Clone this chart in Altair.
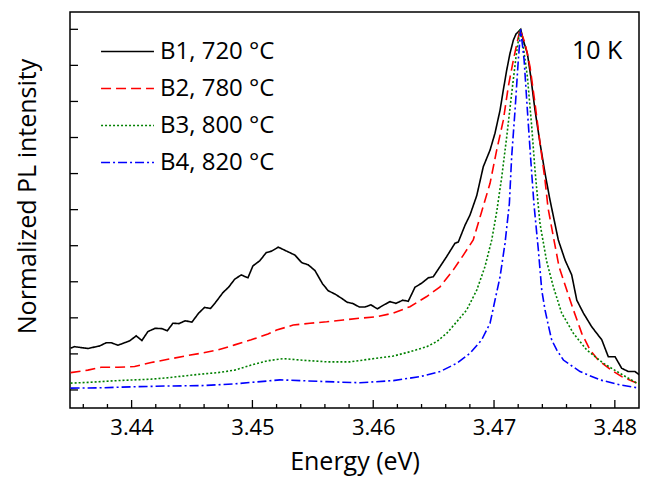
import altair as alt
import pandas as pd

series = ["B1, 720 °C", "B2, 780 °C", "B3, 800 °C", "B4, 820 °C"]
colors = ["#000000", "#ff0000", "#008000", "#0000ff"]
dashes = [[1, 0], [10, 5], [2, 2], [9, 3, 2, 3]]

b1_x = [3.43495, 3.43528, 3.43638, 3.43735, 3.43790, 3.43831, 3.43887, 3.43983, 3.44038, 3.44085,
        3.44135, 3.44195, 3.44251, 3.44295, 3.44342, 3.44392, 3.44444, 3.44499, 3.44555, 3.44604,
        3.44654, 3.44700, 3.44756, 3.44803, 3.44853, 3.44907, 3.44963, 3.45004, 3.45060, 3.45115,
        3.45159, 3.45214, 3.45283, 3.45352, 3.45408, 3.45462, 3.45518, 3.45581, 3.45628, 3.45683,
        3.45739, 3.45785, 3.45830, 3.45885, 3.45932, 3.45981, 3.46034, 3.46089, 3.46139, 3.46188,
        3.46244, 3.46290, 3.46346, 3.46401, 3.46456, 3.46497, 3.46553, 3.46608, 3.46677, 3.46704,
        3.46760, 3.46801, 3.46857, 3.46911, 3.46967, 3.47008, 3.47050, 3.47077, 3.47105, 3.47132,
        3.47160, 3.47182, 3.47221, 3.47242, 3.47276, 3.47304, 3.47339, 3.47381, 3.47422, 3.47463,
        3.47532, 3.47588, 3.47643, 3.47685, 3.47740, 3.47809, 3.47892, 3.47946, 3.48002, 3.48057,
        3.48112, 3.48167, 3.48203]
b1_y = [0.116, 0.120, 0.115, 0.122, 0.131, 0.131, 0.124, 0.136, 0.150, 0.137,
        0.162, 0.171, 0.170, 0.164, 0.185, 0.184, 0.192, 0.188, 0.213, 0.229,
        0.226, 0.245, 0.270, 0.285, 0.307, 0.319, 0.311, 0.344, 0.358, 0.381,
        0.385, 0.396, 0.385, 0.374, 0.353, 0.347, 0.331, 0.294, 0.275, 0.266,
        0.254, 0.243, 0.240, 0.230, 0.230, 0.236, 0.225, 0.236, 0.245, 0.240,
        0.249, 0.246, 0.285, 0.296, 0.311, 0.314, 0.342, 0.370, 0.407, 0.410,
        0.457, 0.485, 0.539, 0.619, 0.665, 0.712, 0.776, 0.832, 0.887, 0.933,
        0.970, 0.987, 1.000, 0.970, 0.933, 0.869, 0.776, 0.684, 0.601, 0.527,
        0.416, 0.360, 0.319, 0.249, 0.213, 0.175, 0.139, 0.092, 0.092, 0.060,
        0.051, 0.051, 0.042]

b2_x = [3.43495, 3.43638, 3.43748, 3.43887, 3.44025, 3.44162, 3.44301, 3.44439, 3.44576, 3.44715,
        3.44853, 3.44990, 3.45129, 3.45200, 3.45338, 3.45476, 3.45615, 3.45752, 3.45890, 3.46029,
        3.46166, 3.46304, 3.46443, 3.46553, 3.46663, 3.46746, 3.46828, 3.46898, 3.46967, 3.47022,
        3.47077, 3.47118, 3.47160, 3.47193, 3.47215, 3.47257, 3.47298, 3.47339, 3.47381, 3.47422,
        3.47447, 3.47491, 3.47538, 3.47602, 3.47657, 3.47726, 3.47795, 3.47863, 3.47970, 3.48057,
        3.48182, 3.48203]
b2_y = [0.048, 0.055, 0.063, 0.063, 0.065, 0.076, 0.085, 0.094, 0.102, 0.111,
        0.125, 0.139, 0.155, 0.166, 0.180, 0.185, 0.189, 0.194, 0.199, 0.203,
        0.213, 0.231, 0.259, 0.286, 0.333, 0.374, 0.416, 0.495, 0.573, 0.665,
        0.748, 0.841, 0.915, 0.966, 1.000, 0.961, 0.896, 0.795, 0.684, 0.582,
        0.505, 0.425, 0.342, 0.277, 0.222, 0.157, 0.111, 0.083, 0.055, 0.037,
        0.019, 0.017]

b3_x = [3.43495, 3.43638, 3.43887, 3.44162, 3.44301, 3.44439, 3.44576, 3.44715, 3.44853, 3.44990,
        3.45129, 3.45255, 3.45394, 3.45615, 3.45808, 3.46029, 3.46166, 3.46304, 3.46443, 3.46525,
        3.46608, 3.46691, 3.46774, 3.46857, 3.46925, 3.46981, 3.47022, 3.47064, 3.47105, 3.47146,
        3.47182, 3.47215, 3.47242, 3.47276, 3.47312, 3.47339, 3.47367, 3.47381, 3.47436, 3.47491,
        3.47560, 3.47657, 3.47767, 3.47905, 3.48043, 3.48182, 3.48203]
b3_y = [0.019, 0.021, 0.026, 0.030, 0.034, 0.039, 0.044, 0.048, 0.055, 0.069,
        0.081, 0.087, 0.083, 0.078, 0.078, 0.088, 0.094, 0.106, 0.120, 0.134,
        0.157, 0.189, 0.222, 0.277, 0.342, 0.416, 0.494, 0.591, 0.702, 0.822,
        0.924, 1.000, 0.952, 0.869, 0.730, 0.610, 0.508, 0.460, 0.356, 0.286,
        0.213, 0.157, 0.111, 0.074, 0.046, 0.019, 0.017]

b4_x = [3.43495, 3.43748, 3.44025, 3.44301, 3.44576, 3.44853, 3.45129, 3.45228, 3.45394, 3.45615,
        3.45890, 3.46166, 3.46387, 3.46553, 3.46691, 3.46801, 3.46898, 3.46967, 3.47008, 3.47050,
        3.47091, 3.47127, 3.47146, 3.47174, 3.47201, 3.47221, 3.47249, 3.47276, 3.47304, 3.47331,
        3.47367, 3.47395, 3.47422, 3.47449, 3.47477, 3.47519, 3.47574, 3.47712, 3.47877, 3.48043,
        3.48203]
b4_y = [0.005, 0.006, 0.009, 0.011, 0.012, 0.017, 0.025, 0.028, 0.026, 0.023,
        0.020, 0.026, 0.037, 0.051, 0.074, 0.102, 0.139, 0.185, 0.249, 0.314,
        0.407, 0.517, 0.647, 0.776, 0.915, 1.000, 0.915, 0.776, 0.638, 0.513,
        0.388, 0.277, 0.222, 0.180, 0.139, 0.111, 0.083, 0.051, 0.028, 0.014,
        0.005]

x_major = [3.44, 3.45, 3.46, 3.47, 3.48]
x_minor = [3.436, 3.438, 3.442, 3.444, 3.446, 3.448, 3.452, 3.454, 3.456, 3.458,
           3.462, 3.464, 3.466, 3.468, 3.472, 3.474, 3.476, 3.478]
y_major = [0.0, 0.1, 0.2, 0.3, 0.4, 0.5, 0.6, 0.7, 0.8, 0.9, 1.0]

rows = []
for name, xs, ys in zip(series, [b1_x, b2_x, b3_x, b4_x], [b1_y, b2_y, b3_y, b4_y]):
    for xv, yv in zip(xs, ys):
        rows.append({"series": name, "energy": xv, "intensity": yv})
df = pd.DataFrame(rows)

FONT = "Open Sans"
W, H = 569, 396
xscale = alt.Scale(domain=[3.4349, 3.482], nice=False, zero=False)
yscale = alt.Scale(domain=[-0.05, 1.048], nice=False, zero=False)

xaxis = alt.Axis(values=x_major, format=".2f", ticks=False, domain=False, grid=False,
                 labelFontSize=22, labelFont=FONT, labelColor="black", labelPadding=9,
                 title="Energy (eV)", titleFontSize=25, titleFont=FONT,
                 titleFontWeight="normal", titleColor="black", titlePadding=11)
yaxis = alt.Axis(labels=False, ticks=False, domain=False, grid=False,
                 title="Normalized PL intensity", titleFontSize=25, titleFont=FONT,
                 titleFontWeight="normal", titleColor="black", titlePadding=30, titleY=184)

leg = alt.Legend(orient="none", legendX=30, legendY=21, title=None, symbolType="stroke",
                 symbolSize=2800, symbolStrokeWidth=1.6, labelFontSize=24, labelFont=FONT,
                 labelColor="black", labelOffset=5, rowPadding=0, clipHeight=37, padding=0)

lines = alt.Chart(df).mark_line(strokeWidth=1.6, clip=True).encode(
    x=alt.X("energy:Q", scale=xscale, axis=xaxis, title="Energy (eV)"),
    y=alt.Y("intensity:Q", scale=yscale, axis=yaxis, title="Normalized PL intensity"),
    color=alt.Color("series:N", scale=alt.Scale(domain=series, range=colors), legend=leg),
    strokeDash=alt.StrokeDash("series:N", scale=alt.Scale(domain=series, range=dashes), legend=leg),
    order=alt.Order("energy:Q"),
)

maj = alt.Chart(pd.DataFrame({"v": x_major})).mark_rule(color="black", strokeWidth=1.3).encode(
    x=alt.X("v:Q", scale=xscale, axis=xaxis, title="Energy (eV)"), y=alt.value(H), y2=alt.value(H - 8))
mnr = alt.Chart(pd.DataFrame({"v": x_minor})).mark_rule(color="black", strokeWidth=1.3).encode(
    x=alt.X("v:Q", scale=xscale, axis=xaxis, title="Energy (eV)"), y=alt.value(H), y2=alt.value(H - 4))
yt = alt.Chart(pd.DataFrame({"v": y_major})).mark_rule(color="black", strokeWidth=1.3).encode(
    y=alt.Y("v:Q", scale=yscale, axis=yaxis, title="Normalized PL intensity"),
    x=alt.value(0), x2=alt.value(8))

label = alt.Chart(pd.DataFrame({"t": ["10 K"]})).mark_text(
    font=FONT, fontSize=25, align="left", baseline="middle", color="black").encode(
    x=alt.value(502), y=alt.value(39), text="t:N")

chart = alt.layer(lines, maj, mnr, yt, label).properties(
    width=W, height=H, autosize="none", background="white",
    padding={"left": 70, "top": 12, "right": 10, "bottom": 69},
).configure_view(stroke="black", strokeWidth=1.5)

chart.save("out.html", embed_options={"renderer": "svg", "actions": False})
